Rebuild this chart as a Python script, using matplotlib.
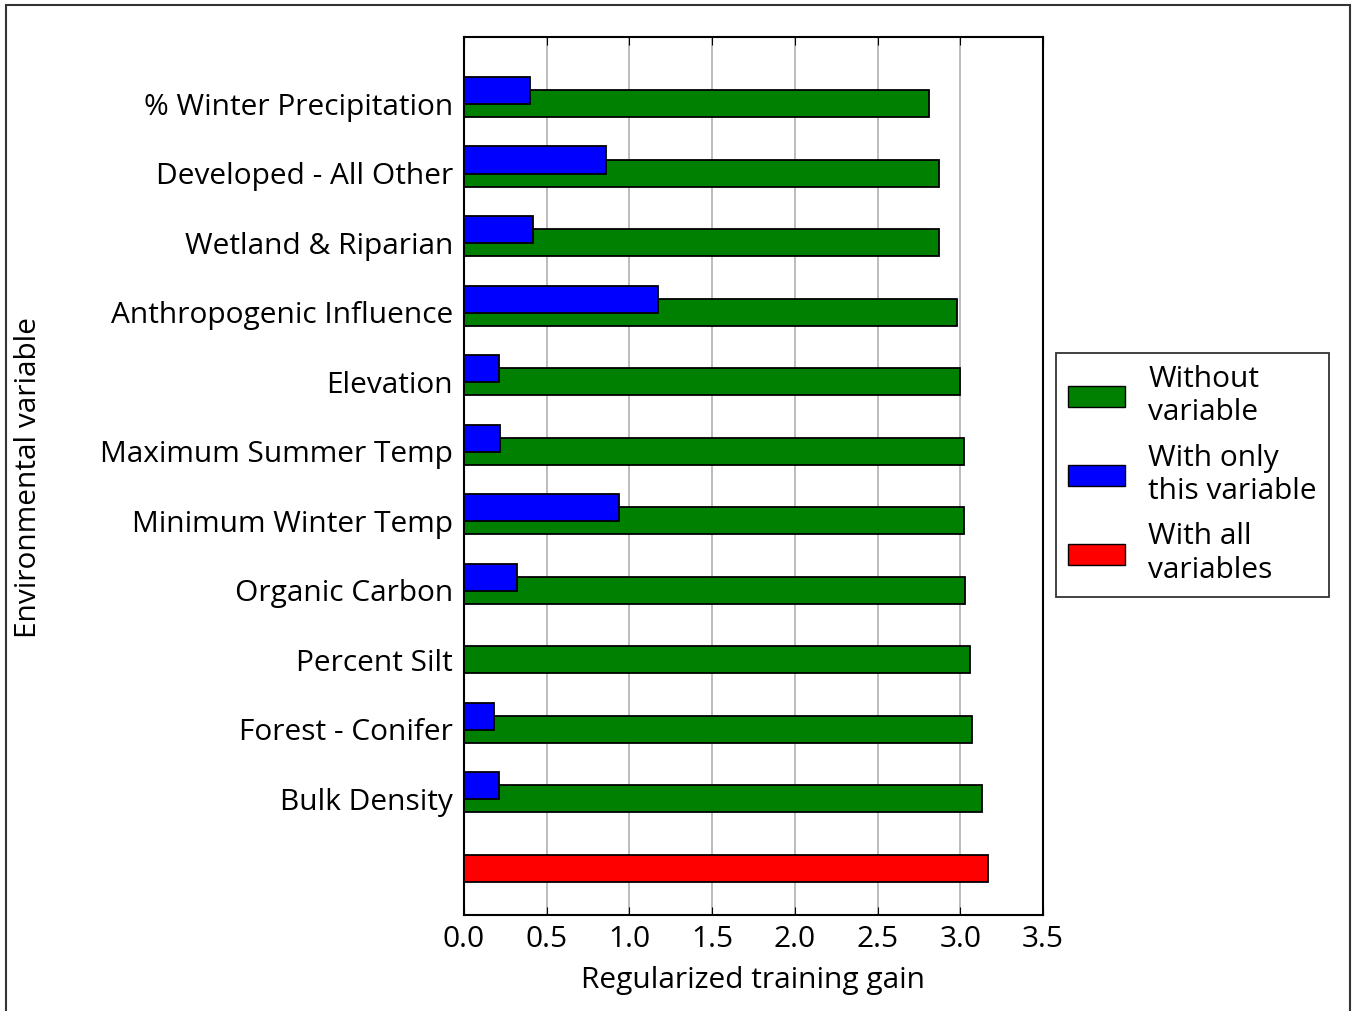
import matplotlib
matplotlib.use('Agg')
import matplotlib.pyplot as plt
from matplotlib.patches import Rectangle, Patch

plt.rcParams['font.family'] = ['Open Sans', 'DejaVu Sans']

# variables, listed from bottom to top (red "all variables" bar sits below them)
variables = ['Bulk Density', 'Forest - Conifer', 'Percent Silt', 'Organic Carbon',
             'Minimum Winter Temp', 'Maximum Summer Temp', 'Elevation',
             'Anthropogenic Influence', 'Wetland & Riparian', 'Developed - All Other',
             '% Winter Precipitation']
without_var = [3.13, 3.07, 3.06, 3.03, 3.02, 3.02, 3.00, 2.98, 2.87, 2.87, 2.81]
only_var = [0.21, 0.18, 0.0, 0.32, 0.94, 0.22, 0.21, 1.17, 0.42, 0.86, 0.40]
all_vars = 3.17

fs = 21.5

fig = plt.figure(figsize=(13.52, 10.11), dpi=100)
ax = fig.add_axes([0.3432, 0.0950, 0.4282, 0.8684])

pos = list(range(1, len(variables) + 1))
h = 0.39
ax.barh(pos, without_var, height=h, color='green', edgecolor='black', linewidth=1.3, zorder=2)
ax.barh([p + 0.19 for p in pos], only_var, height=h, color='blue', edgecolor='black', linewidth=1.3, zorder=3)
ax.barh([0], [all_vars], height=h, color='red', edgecolor='black', linewidth=1.3, zorder=3)

ax.set_xlim(0, 3.5)
ax.set_ylim(-0.67, 11.96)
ax.set_yticks(pos)
ax.set_yticklabels(variables, fontsize=fs)
ax.set_xticks([0, 0.5, 1.0, 1.5, 2.0, 2.5, 3.0, 3.5])
ax.set_xticklabels(['0.0', '0.5', '1.0', '1.5', '2.0', '2.5', '3.0', '3.5'], fontsize=fs)
ax.tick_params(axis='x', direction='in', top=True, length=6, pad=7)
ax.tick_params(axis='y', direction='in', right=True, length=0, pad=8)
ax.xaxis.grid(True, color='#b0b0b0', linewidth=1.2, zorder=0)
ax.set_axisbelow(True)
for s in ax.spines.values():
    s.set_linewidth(1.5)

ax.set_xlabel('Regularized training gain', fontsize=fs, labelpad=9)
fig.text(0.021, 0.528, 'Environmental variable', rotation=90, fontsize=fs,
         ha='center', va='center')

handles = [Patch(facecolor='green', edgecolor='black'),
           Patch(facecolor='blue', edgecolor='black'),
           Patch(facecolor='red', edgecolor='black')]
labels = ['Without\nvariable', 'With only\nthis variable', 'With all\nvariables']
leg = fig.legend(handles, labels, loc='upper left', bbox_to_anchor=(0.781, 0.651),
                 fontsize=fs, handlelength=1.9, handleheight=0.7, fancybox=False,
                 frameon=True, borderpad=0.4, labelspacing=0.55, handletextpad=0.8,
                 borderaxespad=0)
leg.get_frame().set_edgecolor('black')
leg.get_frame().set_linewidth(1.3)

# frame around the whole picture
fig.patches.append(Rectangle((6 / 1352, -0.01), 1344 / 1352, 1.01 - 5 / 1011,
                             transform=fig.transFigure, fill=False,
                             edgecolor='#333333', linewidth=1.5))

fig.savefig('out.png', dpi=100)
